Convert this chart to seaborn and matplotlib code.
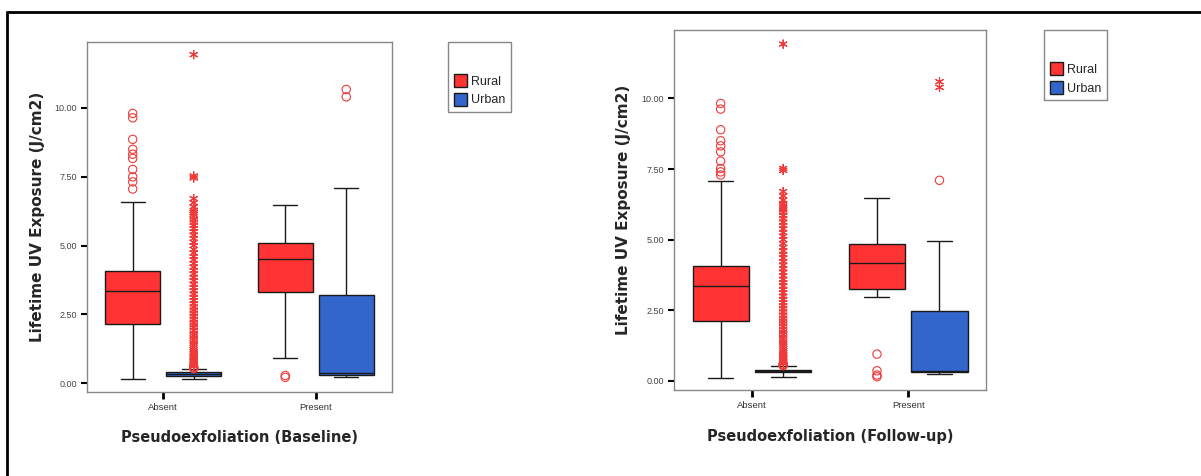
import pandas as pd
import numpy as np
import matplotlib
matplotlib.use("Agg")
import matplotlib.pyplot as plt
from matplotlib.lines import Line2D
import seaborn as sns

# categories
groups = ["Absent", "Present"]
areas = ["Rural", "Urban"]
box_keys = [("Absent", "Rural"), ("Absent", "Urban"), ("Present", "Rural"), ("Present", "Urban")]

# box summaries, same order as box_keys (whisker low, Q1, median, Q3, whisker high)
base_whislo = [0.15, 0.16, 0.91, 0.22]
base_q1 = [2.15, 0.28, 3.30, 0.30]
base_median = [3.34, 0.33, 4.50, 0.38]
base_q3 = [4.09, 0.40, 5.09, 3.20]
base_whishi = [6.58, 0.51, 6.48, 7.07]

fu_whislo = [0.12, 0.15, 2.96, 0.24]
fu_q1 = [2.12, 0.32, 3.26, 0.32]
fu_median = [3.35, 0.35, 4.18, 0.36]
fu_q3 = [4.08, 0.38, 4.86, 2.47]
fu_whishi = [7.06, 0.54, 6.48, 4.95]

# outliers (circles) and extremes (stars)
base_rural_absent_out = [9.79, 9.63, 8.85, 8.49, 8.31, 8.16, 7.76, 7.49, 7.31, 7.05]
base_rural_present_out = [0.22, 0.29]
base_urban_present_out = [10.66, 10.39]

fu_rural_absent_out = [9.82, 9.62, 8.89, 8.50, 8.32, 8.11, 7.78, 7.52, 7.40, 7.29]
fu_rural_present_out = [0.95, 0.36, 0.21, 0.15]
fu_urban_present_out = [7.10]
fu_urban_present_ext = [10.59, 10.39]

urban_absent_out = [0.54, 0.57, 0.60]
urban_absent_ext = [0.62, 0.66, 0.70, 0.74, 0.78, 0.83, 0.88, 0.94, 1.00, 1.07, 1.14,
                    1.22, 1.30, 1.38, 1.46, 1.55, 1.64, 1.73, 1.82, 1.92, 2.02, 2.12,
                    2.22, 2.33, 2.44, 2.55, 2.66, 2.77, 2.89, 3.00, 3.12, 3.24, 3.36,
                    3.48, 3.60, 3.72, 3.85, 3.97, 4.10, 4.22, 4.35, 4.48, 4.60, 4.73,
                    4.86, 5.00, 5.12, 5.25, 5.38, 5.50, 5.62, 5.74, 5.85, 5.96, 6.05,
                    6.13, 6.20, 6.28, 6.40, 6.55, 6.70, 7.45, 7.52, 11.92]

yticks = [0, 2.5, 5, 7.5, 10]
ytick_labels = ["0.00", "2.50", "5.00", "7.50", "10.00"]

red = "#FF3333"
blue = "#3366CC"
marker_red = "#F03A3A"


def box_frame(whislo, q1, med, q3, whishi):
    rows = []
    for i, (g, a) in enumerate(box_keys):
        for v in [whislo[i], q1[i], med[i], q3[i], whishi[i]]:
            rows.append({"group": g, "area": a, "value": v})
    return pd.DataFrame(rows)


def point_frame(items):
    rows = []
    for g, a, vals in items:
        for v in vals:
            rows.append({"group": g, "area": a, "value": v})
    return pd.DataFrame(rows)


def draw_points(ax, df, marker, size):
    n0 = len(ax.collections)
    sns.stripplot(data=df, x="group", y="value", hue="area", order=groups, hue_order=areas,
                  dodge=True, jitter=False, marker=marker, size=size,
                  palette={"Rural": marker_red, "Urban": marker_red}, legend=False, ax=ax)
    for c in ax.collections[n0:]:
        c.set_facecolor("none")
        c.set_edgecolor(marker_red)
        c.set_linewidth(0.8)


def panel(ax, boxes, circles, stars, xlabel, ylim, legend_x):
    sns.boxplot(data=boxes, x="group", y="value", hue="area", order=groups, hue_order=areas,
                palette={"Rural": red, "Urban": blue}, saturation=1, width=0.8, gap=0.1,
                whis=(0, 100), showfliers=False, linewidth=1, linecolor="#1a1a1a",
                capwidths=0.16, ax=ax)
    draw_points(ax, circles, "o", 6)
    draw_points(ax, stars, (6, 2, 0), 6)

    ax.set_xlim(-0.5, 1.5)
    ax.set_ylim(*ylim)
    ax.set_yticks(yticks)
    ax.set_yticklabels(ytick_labels)
    ax.tick_params(axis="y", length=4, width=1.5, color="black", labelsize=6.5,
                   labelcolor="#444444", pad=3)
    ax.tick_params(axis="x", length=5, width=2, color="black", labelsize=6.8,
                   labelcolor="#333333", pad=3)
    for lab in ax.get_xticklabels() + ax.get_yticklabels():
        lab.set_family("Liberation Sans")
    for s in ax.spines.values():
        s.set_color("#888888")
        s.set_linewidth(1)
    ax.set_xlabel(xlabel, fontsize=10.5, fontweight="bold", family="DejaVu Sans")
    ax.set_ylabel("Lifetime UV Exposure (J/cm2)", fontsize=11, fontweight="bold",
                  family="DejaVu Sans")
    ax.xaxis.set_label_coords(0.5, -0.108)
    ax.yaxis.set_label_coords(-0.136, 0.5)

    sns.move_legend(ax, "upper left", bbox_to_anchor=(legend_x, 1.0), borderaxespad=0,
                    title="\n", title_fontsize=8, prop={"family": "Liberation Sans", "size": 9},
                    frameon=True, fancybox=False, edgecolor="#888888", framealpha=1,
                    handlelength=1.05, handleheight=1.2, handletextpad=0.3,
                    labelspacing=0.4, borderpad=0.45)
    leg = ax.get_legend()
    leg.get_frame().set_linewidth(1)
    for h in leg.legend_handles:
        h.set_edgecolor("#1a1a1a")
        h.set_linewidth(1)


sns.set_style("ticks")
plt.rcParams["font.family"] = ["DejaVu Sans"]

fig = plt.figure(figsize=(12.01, 4.76), dpi=100)
ax1 = fig.add_axes([0.0724, 0.1765, 0.254, 0.7353])
ax2 = fig.add_axes([0.561, 0.1807, 0.2603, 0.7557])

base_boxes = box_frame(base_whislo, base_q1, base_median, base_q3, base_whishi)
base_circles = point_frame([("Absent", "Rural", base_rural_absent_out),
                            ("Absent", "Urban", urban_absent_out),
                            ("Present", "Rural", base_rural_present_out),
                            ("Present", "Urban", base_urban_present_out)])
base_stars = point_frame([("Absent", "Urban", urban_absent_ext)])

fu_boxes = box_frame(fu_whislo, fu_q1, fu_median, fu_q3, fu_whishi)
fu_circles = point_frame([("Absent", "Rural", fu_rural_absent_out),
                          ("Absent", "Urban", urban_absent_out),
                          ("Present", "Rural", fu_rural_present_out),
                          ("Present", "Urban", fu_urban_present_out)])
fu_stars = point_frame([("Absent", "Urban", urban_absent_ext),
                        ("Present", "Urban", fu_urban_present_ext)])

panel(ax1, base_boxes, base_circles, base_stars, "Pseudoexfoliation (Baseline)", (-0.31, 12.38), 1.184)
panel(ax2, fu_boxes, fu_circles, fu_stars, "Pseudoexfoliation (Follow-up)", (-0.32, 12.41), 1.185)

# outer frame (top and left edges only)
fig.add_artist(Line2D([7 / 1201, 1.0], [1 - 12 / 476, 1 - 12 / 476], color="black", lw=2))
fig.add_artist(Line2D([7 / 1201, 7 / 1201], [1 - 12 / 476, 0.0], color="black", lw=2))

fig.savefig("out.png", dpi=100)
